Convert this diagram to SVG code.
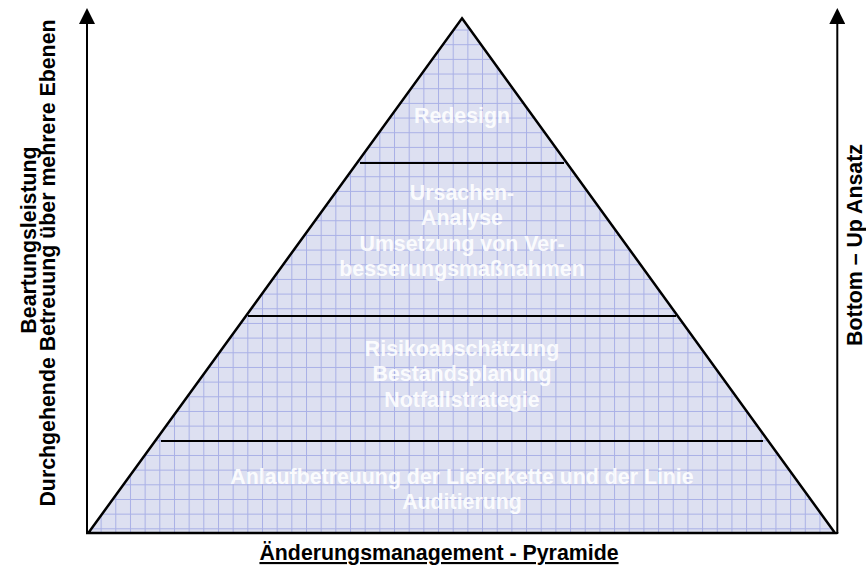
<svg xmlns="http://www.w3.org/2000/svg" width="866" height="569" viewBox="0 0 866 569">
  <style>
    .lvl { font-family: "Liberation Sans", Arial, sans-serif; font-weight: bold; font-size: 21.33px; fill: #ffffff; fill-opacity: 0.9; text-anchor: middle; }
    .side { font-family: "Liberation Sans", Arial, sans-serif; font-weight: bold; font-size: 21.33px; fill: #000000; text-anchor: middle; }
    .sep { stroke: #000000; stroke-width: 2; fill: none; }
    .axis { stroke: #000000; stroke-width: 2; fill: none; }
  </style>
  <defs>
    <pattern id="grid" patternUnits="userSpaceOnUse" x="12.6" y="0.2" width="14.67" height="14.67">
      <rect x="0" y="0" width="14.67" height="14.67" fill="#dde0f1"/>
      <path d="M0 0.5 H14.67 M0.5 0 V14.67" stroke="#a9b0e6" stroke-width="1"/>
    </pattern>
    <marker id="arrow" viewBox="0 0 16 16" refX="2" refY="8" markerWidth="16" markerHeight="16" markerUnits="userSpaceOnUse" orient="auto">
      <path d="M0 0 L16 8 L0 16 Z" fill="#000000"/>
    </marker>
  </defs>

  <rect x="0" y="0" width="866" height="569" fill="#ffffff"/>

  <g id="pyramid">
    <polygon points="462,18.3 835,533 88.3,533" fill="url(#grid)" stroke="#000000" stroke-width="2.5" stroke-linejoin="miter"/>
  </g>

  <g id="separators">
    <line class="sep" x1="360" y1="163" x2="564" y2="163"/>
    <line class="sep" x1="248" y1="316" x2="676" y2="316"/>
    <line class="sep" x1="161" y1="441" x2="763" y2="441"/>
  </g>

  <g id="level-redesign">
    <text class="lvl" x="462" y="123">Redesign</text>
  </g>

  <g id="level-ursachen">
    <text class="lvl" x="462" y="199.5">Ursachen-</text>
    <text class="lvl" x="462" y="225">Analyse</text>
    <text class="lvl" x="462" y="250.5">Umsetzung von Ver-</text>
    <text class="lvl" x="462" y="276">besserungsmaßnahmen</text>
  </g>

  <g id="level-risiko">
    <text class="lvl" x="462" y="355.5">Risikoabschätzung</text>
    <text class="lvl" x="462" y="381">Bestandsplanung</text>
    <text class="lvl" x="462" y="406.5">Notfallstrategie</text>
  </g>

  <g id="level-anlauf">
    <text class="lvl" x="462" y="484">Anlaufbetreuung der Lieferkette und der Linie</text>
    <text class="lvl" x="462" y="509">Auditierung</text>
  </g>

  <g id="connectors">
    <line class="axis" x1="87" y1="533" x2="87" y2="22" marker-end="url(#arrow)"/>
    <line class="axis" x1="837.3" y1="533" x2="837.3" y2="22" marker-end="url(#arrow)"/>
    <line class="axis" x1="86" y1="533" x2="838.3" y2="533" stroke-width="2.5"/>
  </g>

  <g id="label-left">
    <text class="side" transform="translate(36,240) rotate(-90)">Beartungsleistung</text>
    <text class="side" transform="translate(55,263) rotate(-90)">Durchgehende Betreuung über mehrere Ebenen</text>
  </g>

  <g id="label-right">
    <text class="side" transform="translate(862,245) rotate(-90)">Bottom – Up Ansatz</text>
  </g>

  <g id="title">
    <text class="side" x="439" y="560" text-decoration="underline">Änderungsmanagement - Pyramide</text>
  </g>
</svg>
